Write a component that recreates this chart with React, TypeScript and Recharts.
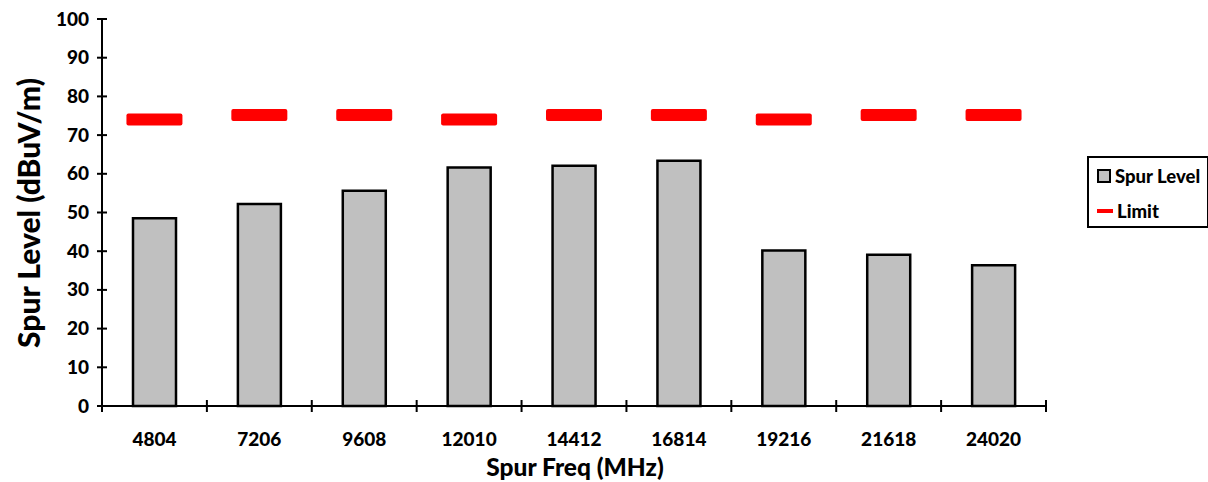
import { ComposedChart, Bar, Line, XAxis, YAxis, Legend } from 'recharts';

const freqs = ['4804', '7206', '9608', '12010', '14412', '16814', '19216', '21618', '24020'];
const spurLevels = [48.5, 52.2, 55.6, 61.6, 62.1, 63.4, 40.2, 39.1, 36.4];
const limits = [74, 75.2, 75.2, 74, 75.2, 75.2, 74, 75.2, 75.2];
const yTicks = [0, 10, 20, 30, 40, 50, 60, 70, 80, 90, 100];

const data = freqs.map((freq, i) => ({
  freq,
  spur: spurLevels[i],
  limit: limits[i],
}));

const FONT = 'Lato, "Open Sans", sans-serif';
const AXIS_X = 102;
const AXIS_Y = 406;
const PLOT_W = 944;
const BAND = PLOT_W / freqs.length;

function XTick(props: any) {
  const { x, payload, index } = props;
  const left = x - BAND / 2;
  return (
    <g>
      <line x1={left} x2={left} y1={AXIS_Y - 6} y2={AXIS_Y + 6} stroke="#000" strokeWidth={2} />
      {index === freqs.length - 1 && (
        <line x1={x + BAND / 2} x2={x + BAND / 2} y1={AXIS_Y - 6} y2={AXIS_Y + 6} stroke="#000" strokeWidth={2} />
      )}
      <text x={x} y={446} textAnchor="middle" fontFamily={FONT} fontWeight={900} fontSize={19} fill="#000">
        {payload.value}
      </text>
    </g>
  );
}

function YTick(props: any) {
  const { y, payload } = props;
  return (
    <g>
      <line x1={AXIS_X - 5} x2={AXIS_X + 5} y1={y} y2={y} stroke="#000" strokeWidth={2} />
      <text x={89} y={y + 6.5} textAnchor="end" fontFamily={FONT} fontWeight={900} fontSize={19} fill="#000">
        {payload.value}
      </text>
    </g>
  );
}

function LimitDash(props: any) {
  const { cx, cy, index } = props;
  if (cx == null || cy == null) return null;
  return <rect key={index} x={cx - 28} y={cy - 6} width={56} height={12} rx={2} fill="#FF0000" />;
}

function LegendBox() {
  return (
    <div
      style={{
        border: '2px solid #000',
        background: '#fff',
        width: 122,
        height: 72,
        boxSizing: 'border-box',
        fontFamily: FONT,
        fontWeight: 900,
        fontSize: 18.5,
        color: '#000',
        padding: '6px 0 0 8px',
        whiteSpace: 'nowrap',
      }}
    >
      <div style={{ display: 'flex', alignItems: 'center', height: 24 }}>
        <span style={{ width: 14, height: 14, flex: 'none', background: '#C0C0C0', border: '2px solid #000', boxSizing: 'border-box', marginRight: 4 }} />
        Spur Level
      </div>
      <div style={{ display: 'flex', alignItems: 'center', height: 24, marginTop: 11 }}>
        <span style={{ width: 16, height: 4, flex: 'none', background: '#FF0000', marginRight: 4 }} />
        Limit
      </div>
    </div>
  );
}

export default function App() {
  return (
    <div style={{ width: 1208, height: 482, background: '#fff', overflow: 'hidden' }}>
      <style>{'body{margin:0}'}</style>
      <ComposedChart width={1208} height={482} data={data} margin={{ top: 19, right: 162, bottom: 0, left: 0 }}>
        <XAxis
          xAxisId="top"
          orientation="top"
          dataKey="freq"
          height={0}
          tick={false}
          tickLine={false}
          axisLine={{ stroke: '#808080', strokeWidth: 2 }}
        />
        <YAxis
          yAxisId="right"
          orientation="right"
          width={0}
          domain={[0, 100]}
          tick={false}
          tickLine={false}
          axisLine={{ stroke: '#808080', strokeWidth: 2 }}
        />
        <XAxis
          dataKey="freq"
          height={76}
          tickLine={false}
          axisLine={{ stroke: '#000', strokeWidth: 2 }}
          tick={<XTick />}
          interval={0}
          label={() => (
            <text x={575} y={476} textAnchor="middle" fontFamily={FONT} fontWeight={900} fontSize={24.5} fill="#000" key="xl">
              Spur Freq (MHz)
            </text>
          )}
        />
        <YAxis
          width={102}
          domain={[0, 100]}
          ticks={yTicks}
          interval={0}
          tickLine={false}
          axisLine={{ stroke: '#000', strokeWidth: 2 }}
          tick={<YTick />}
          label={() => (
            <text
              x={0}
              y={0}
              transform="translate(40,213) rotate(-90)"
              textAnchor="middle"
              fontFamily={FONT}
              fontWeight={900}
              fontSize={30}
              fill="#000"
              key="yl"
            >
              Spur Level (dBuV/m)
            </text>
          )}
        />
        <Bar dataKey="spur" name="Spur Level" fill="#C0C0C0" stroke="#000" strokeWidth={2.5} barSize={43} isAnimationActive={false} />
        <Line
          dataKey="limit"
          name="Limit"
          stroke="none"
          dot={<LimitDash />}
          activeDot={false}
          isAnimationActive={false}
        />
        <Legend
          layout="vertical"
          align="center"
          verticalAlign="middle"
          content={() => <LegendBox />}
          wrapperStyle={{ left: 1087, top: 156, width: 122, height: 72 }}
        />
      </ComposedChart>
    </div>
  );
}
